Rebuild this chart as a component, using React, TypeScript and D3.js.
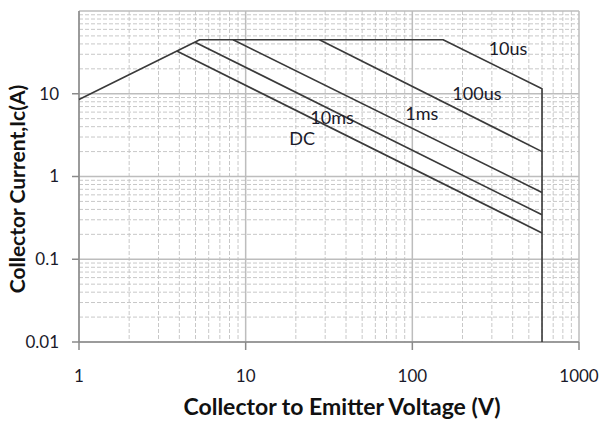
import React from "react";
import * as d3 from "d3";

const xTicks = [1, 10, 100, 1000];
const yTicks = [0.01, 0.1, 1, 10];
const xTickLabels = ["1", "10", "100", "1000"];
const yTickLabels = ["0.01", "0.1", "1", "10"];

// Safe operating area boundary (common envelope incl. 10us limit)
const envelope: [number, number][] = [
  [1, 8.5],
  [5.3, 45],
  [153, 45],
  [600, 11.5],
  [600, 0.01],
];
const line100us: [number, number][] = [[27.7, 45], [600, 2.0]];
const line1ms: [number, number][] = [[8.4, 45], [600, 0.64]];
const line10ms: [number, number][] = [[4.97, 42], [600, 0.345]];
const lineDC: [number, number][] = [[3.86, 32.8], [600, 0.208]];

const curveLabels = ["10us", "100us", "1ms", "10ms", "DC"];
const labelAnchors: [number, number][] = [
  [375, 35],
  [244, 10.1],
  [114, 5.8],
  [33, 5.2],
  [21.8, 2.9],
];

export default function App() {
  const W = 603, H = 423;
  const left = 79, right = 579, top = 11, bottom = 342;
  const x = d3.scaleLog().domain([1, 1000]).range([left, right]);
  const y = d3.scaleLog().domain([0.01, 100]).range([bottom, top]);
  const line = d3.line<[number, number]>().x(d => x(d[0])).y(d => y(d[1]));

  const minorX: number[] = [];
  for (let dec = 1; dec < 1000; dec *= 10) for (let k = 2; k <= 9; k++) minorX.push(dec * k);
  const minorY: number[] = [];
  for (let dec = 0.01; dec < 99; dec *= 10) for (let k = 2; k <= 9; k++) minorY.push(dec * k);
  const majorX = [1, 10, 100, 1000];
  const majorY = [0.01, 0.1, 1, 10, 100];

  const font = "Lato, 'Liberation Sans', Arial, sans-serif";

  return (
    <svg width={W} height={H} style={{ position: "absolute", left: 0, top: 0, background: "#fff" }}>
      <rect x={0} y={0} width={W} height={H} fill="#fff" />
      {minorX.map((v, i) => (
        <line key={"mx" + i} x1={x(v)} x2={x(v)} y1={top} y2={bottom} stroke="#c8c8c8" strokeWidth={1} strokeDasharray="4,2" />
      ))}
      {minorY.map((v, i) => (
        <line key={"my" + i} x1={left} x2={right} y1={y(v)} y2={y(v)} stroke="#c8c8c8" strokeWidth={1} strokeDasharray="4,2" />
      ))}
      {majorX.map((v, i) => (
        <line key={"Mx" + i} x1={x(v)} x2={x(v)} y1={top} y2={bottom} stroke="#bdbdbd" strokeWidth={1.5} />
      ))}
      {majorY.map((v, i) => (
        <line key={"My" + i} x1={left} x2={right} y1={y(v)} y2={y(v)} stroke="#bdbdbd" strokeWidth={1.5} />
      ))}
      {/* axes */}
      <line x1={left} x2={left} y1={top} y2={bottom} stroke="#8a8a8a" strokeWidth={1.5} />
      <line x1={left} x2={right} y1={bottom} y2={bottom} stroke="#8a8a8a" strokeWidth={1.5} />
      {xTicks.map((v, i) => (
        <g key={"xt" + i}>
          <line x1={x(v)} x2={x(v)} y1={bottom} y2={bottom + 8} stroke="#8a8a8a" strokeWidth={1.5} />
          <text x={x(v)} y={382} textAnchor="middle" fontFamily={font} fontSize={17} fill="#1a1a2a">{xTickLabels[i]}</text>
        </g>
      ))}
      {yTicks.map((v, i) => (
        <g key={"yt" + i}>
          <line x1={left - 7} x2={left} y1={y(v)} y2={y(v)} stroke="#8a8a8a" strokeWidth={1.5} />
          <text x={59} y={y(v)} dy="0.35em" textAnchor="end" fontFamily={font} fontSize={17} fill="#1a1a2a">{yTickLabels[i]}</text>
        </g>
      ))}
      {/* curves */}
      {[envelope, line100us, line1ms, line10ms, lineDC].map((s, i) => (
        <path key={"c" + i} d={line(s) || ""} fill="none" stroke="#3a3a3a" strokeWidth={1.6} strokeLinejoin="round" />
      ))}
      {curveLabels.map((t, i) => (
        <text key={"l" + i} x={x(labelAnchors[i][0])} y={y(labelAnchors[i][1])} dy="0.35em" textAnchor="middle" fontFamily={font} fontSize={18} fill="#1a1a2a">{t}</text>
      ))}
      <text x={342} y={415} textAnchor="middle" fontFamily={font} fontSize={23} fontWeight="bold" fill="#111">Collector to Emitter Voltage (V)</text>
      <text transform="translate(25,189) rotate(-90)" textAnchor="middle" fontFamily={font} fontSize={21} fontWeight="bold" fill="#111">Collector Current,Ic(A)</text>
    </svg>
  );
}
